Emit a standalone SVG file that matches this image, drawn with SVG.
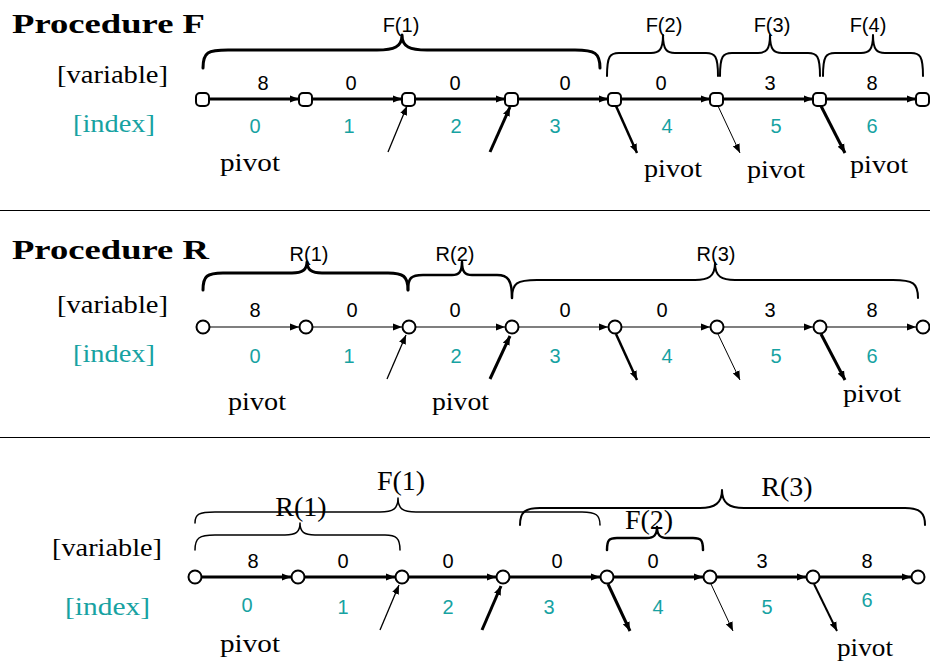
<svg xmlns="http://www.w3.org/2000/svg" width="930" height="664" viewBox="0 0 930 664">
<style>
.title{font-family:"Liberation Serif",serif;font-weight:bold;font-size:28px;fill:#000}
.lab{font-family:"Liberation Serif",serif;font-size:25px;fill:#000}
.idxl{font-family:"Liberation Serif",serif;font-size:25px;fill:#17A2A2}
.val{font-family:"Liberation Sans",Arial,sans-serif;font-size:20px;fill:#000;text-anchor:middle}
.idx{font-family:"Liberation Sans",Arial,sans-serif;font-size:20px;fill:#17A2A2;text-anchor:middle}
.blab{font-family:"Liberation Sans",Arial,sans-serif;font-size:20px;fill:#000;text-anchor:middle}
.slab{font-family:"Liberation Serif",serif;font-size:28px;fill:#000;text-anchor:middle}
.node{fill:#fff;stroke:#000;stroke-width:2}
.brace{fill:none;stroke:#000;stroke-linecap:round;stroke-linejoin:round}
.thick{stroke:#000;stroke-width:3;fill:none}
.thin{stroke:#555;stroke-width:1.3;fill:none}
.sep{stroke:#000;stroke-width:1}
</style>
<defs>
<marker id="ah" viewBox="0 0 10 8" refX="10" refY="4" markerWidth="9" markerHeight="8" markerUnits="userSpaceOnUse" orient="auto">
<path d="M0,0 L10,4 L0,8 z" fill="#000"/>
</marker>
</defs>

<line class="sep" x1="0" y1="210.5" x2="930" y2="210.5"/>
<line class="sep" x1="0" y1="437.5" x2="930" y2="437.5"/>

<!-- Section F -->
<g id="secF-labels">
<text class="title" x="12" y="33" textLength="193" lengthAdjust="spacingAndGlyphs">Procedure F</text>
<text class="lab" x="57" y="83" textLength="111" lengthAdjust="spacingAndGlyphs">[variable]</text>
<text class="idxl" x="73" y="132" textLength="82" lengthAdjust="spacingAndGlyphs">[index]</text>
<text class="val" x="263" y="90">8</text><text class="val" x="351" y="90">0</text><text class="val" x="455" y="90">0</text><text class="val" x="565" y="90">0</text><text class="val" x="661" y="90">0</text><text class="val" x="770" y="90">3</text><text class="val" x="872" y="90">8</text>
<text class="idx" x="255" y="133">0</text><text class="idx" x="349" y="133">1</text><text class="idx" x="456" y="133">2</text><text class="idx" x="555" y="133">3</text><text class="idx" x="667" y="133">4</text><text class="idx" x="776" y="133">5</text><text class="idx" x="872" y="133">6</text>
<text class="lab" x="220" y="171" textLength="60" lengthAdjust="spacingAndGlyphs">pivot</text>
<text class="lab" x="644" y="177" textLength="58" lengthAdjust="spacingAndGlyphs">pivot</text>
<text class="lab" x="747" y="178" textLength="58" lengthAdjust="spacingAndGlyphs">pivot</text>
<text class="lab" x="850" y="173" textLength="58" lengthAdjust="spacingAndGlyphs">pivot</text>
</g>
<g id="secF-braces">
<path class="brace" stroke-width="3" d="M203,68 C203,52 208,50 228,50 L377,50 C394,50 402,47 402,35 C402,47 410,50 427,50 L575,50 C595,50 600,53 600,68"/>
<path class="brace" stroke-width="2" d="M607,76 C607,56 610,53 619,53 L651,53 C659,53 663,50 663,35 C663,50 667,53 675,53 L706,53 C715,53 718,56 718,76"/>
<path class="brace" stroke-width="2" d="M720,76 C720,56 723,53 732,53 L758,53 C766,53 770,50 770,35 C770,50 774,53 782,53 L808,53 C817,53 820,56 820,76"/>
<path class="brace" stroke-width="2" d="M823,76 C823,56 826,53 835,53 L861,53 C869,53 873,50 873,35 C873,50 877,53 885,53 L911,53 C920,53 923,56 923,76"/>
<text class="blab" x="401" y="32">F(1)</text>
<text class="blab" x="664" y="32">F(2)</text>
<text class="blab" x="772" y="32">F(3)</text>
<text class="blab" x="868" y="32">F(4)</text>
</g>
<g id="secF-connectors">
<line class="thick" x1="209" y1="99" x2="299" y2="99" marker-end="url(#ah)"/>
<line class="thick" x1="312" y1="99" x2="402" y2="99" marker-end="url(#ah)"/>
<line class="thick" x1="415" y1="99" x2="505" y2="99" marker-end="url(#ah)"/>
<line class="thick" x1="518" y1="99" x2="608" y2="99" marker-end="url(#ah)"/>
<line class="thick" x1="621" y1="99" x2="710" y2="99" marker-end="url(#ah)"/>
<line class="thick" x1="723" y1="99" x2="813" y2="99" marker-end="url(#ah)"/>
<line class="thick" x1="826" y1="99" x2="916" y2="99" marker-end="url(#ah)"/>
<line stroke="#000" stroke-width="1.3" x1="388" y1="152" x2="407" y2="106" marker-end="url(#ah)"/>
<line stroke="#000" stroke-width="3" x1="490" y1="152" x2="510" y2="107" marker-end="url(#ah)"/>
<line stroke="#000" stroke-width="2.5" x1="616" y1="106" x2="637" y2="153" marker-end="url(#ah)"/>
<line stroke="#000" stroke-width="1" x1="718" y1="106" x2="740" y2="153" marker-end="url(#ah)"/>
<line stroke="#000" stroke-width="3" x1="821" y1="106" x2="845" y2="153" marker-end="url(#ah)"/>
</g>
<g id="secF-nodes">
<rect id="f-n0" class="node" x="196" y="93" width="13" height="13" rx="4"/>
<rect id="f-n1" class="node" x="299" y="93" width="13" height="13" rx="4"/>
<rect id="f-n2" class="node" x="402" y="93" width="13" height="13" rx="4"/>
<rect id="f-n3" class="node" x="505" y="93" width="13" height="13" rx="4"/>
<rect id="f-n4" class="node" x="608" y="93" width="13" height="13" rx="4"/>
<rect id="f-n5" class="node" x="710" y="93" width="13" height="13" rx="4"/>
<rect id="f-n6" class="node" x="813" y="93" width="13" height="13" rx="4"/>
<rect id="f-n7" class="node" x="916" y="93" width="13" height="13" rx="4"/>
</g>

<!-- Section R -->
<g id="secR-labels">
<text class="title" x="12" y="259" textLength="197" lengthAdjust="spacingAndGlyphs">Procedure R</text>
<text class="lab" x="57" y="313" textLength="111" lengthAdjust="spacingAndGlyphs">[variable]</text>
<text class="idxl" x="73" y="362" textLength="82" lengthAdjust="spacingAndGlyphs">[index]</text>
<text class="val" x="255" y="317">8</text><text class="val" x="352" y="317">0</text><text class="val" x="455" y="317">0</text><text class="val" x="565" y="317">0</text><text class="val" x="662" y="317">0</text><text class="val" x="770" y="317">3</text><text class="val" x="872" y="317">8</text>
<text class="idx" x="255" y="363">0</text><text class="idx" x="349" y="363">1</text><text class="idx" x="456" y="363">2</text><text class="idx" x="555" y="363">3</text><text class="idx" x="667" y="363">4</text><text class="idx" x="776" y="363">5</text><text class="idx" x="872" y="363">6</text>
<text class="lab" x="228" y="410" textLength="58" lengthAdjust="spacingAndGlyphs">pivot</text>
<text class="lab" x="432" y="410" textLength="57" lengthAdjust="spacingAndGlyphs">pivot</text>
<text class="lab" x="843" y="402" textLength="58" lengthAdjust="spacingAndGlyphs">pivot</text>
</g>
<g id="secR-braces">
<path class="brace" stroke-width="3" d="M203,290 C203,276 207,273 223,273 L292,273 C302,273 307,270 307,262 C307,270 312,273 322,273 L388,273 C403,273 408,276 408,290"/>
<path class="brace" stroke-width="2.5" d="M408,290 C408,278 411,275 423,275 L452,275 C459,275 462,272 462,262 C462,272 465,275 472,275 L497,275 C508,275 512,280 512,298"/>
<path class="brace" stroke-width="2" d="M512,298 C512,283 517,280 537,280 L695,280 C708,280 715,277 715,263 C715,277 722,280 735,280 L893,280 C913,280 918,283 918,298"/>
<text class="blab" x="309" y="261">R(1)</text>
<text class="blab" x="455" y="261">R(2)</text>
<text class="blab" x="716" y="261">R(3)</text>
</g>
<g id="secR-connectors">
<line class="thin" x1="210" y1="327" x2="299" y2="327" marker-end="url(#ah)"/>
<line class="thin" x1="313" y1="327" x2="402" y2="327" marker-end="url(#ah)"/>
<line class="thin" x1="416" y1="327" x2="505" y2="327" marker-end="url(#ah)"/>
<line class="thin" x1="519" y1="327" x2="608" y2="327" marker-end="url(#ah)"/>
<line class="thin" x1="622" y1="327" x2="710" y2="327" marker-end="url(#ah)"/>
<line class="thin" x1="724" y1="327" x2="813" y2="327" marker-end="url(#ah)"/>
<line class="thin" x1="827" y1="327" x2="916" y2="327" marker-end="url(#ah)"/>
<line stroke="#000" stroke-width="1.3" x1="387" y1="379" x2="406" y2="335" marker-end="url(#ah)"/>
<line stroke="#000" stroke-width="3" x1="490" y1="379" x2="510" y2="336" marker-end="url(#ah)"/>
<line stroke="#000" stroke-width="2.5" x1="616" y1="334" x2="637" y2="380" marker-end="url(#ah)"/>
<line stroke="#000" stroke-width="1" x1="718" y1="334" x2="740" y2="380" marker-end="url(#ah)"/>
<line stroke="#000" stroke-width="3" x1="821" y1="334" x2="845" y2="380" marker-end="url(#ah)"/>
</g>
<g id="secR-nodes">
<circle id="r-n0" class="node" cx="203" cy="327" r="6.5"/>
<circle id="r-n1" class="node" cx="306" cy="327" r="6.5"/>
<circle id="r-n2" class="node" cx="409" cy="327" r="6.5"/>
<circle id="r-n3" class="node" cx="512" cy="327" r="6.5"/>
<circle id="r-n4" class="node" cx="615" cy="327" r="6.5"/>
<circle id="r-n5" class="node" cx="717" cy="327" r="6.5"/>
<circle id="r-n6" class="node" cx="820" cy="327" r="6.5"/>
<circle id="r-n7" class="node" cx="923" cy="327" r="6.5"/>
</g>

<!-- Section 3 -->
<g id="sec3-labels">
<text class="lab" x="52" y="556" textLength="110" lengthAdjust="spacingAndGlyphs">[variable]</text>
<text class="idxl" x="65" y="615" textLength="85" lengthAdjust="spacingAndGlyphs">[index]</text>
<text class="val" x="253" y="568">8</text><text class="val" x="343" y="568">0</text><text class="val" x="448" y="568">0</text><text class="val" x="557" y="568">0</text><text class="val" x="653" y="568">0</text><text class="val" x="762" y="568">3</text><text class="val" x="867" y="568">8</text>
<text class="idx" x="247" y="612">0</text><text class="idx" x="343" y="614">1</text><text class="idx" x="448" y="614">2</text><text class="idx" x="549" y="614">3</text><text class="idx" x="658" y="614">4</text><text class="idx" x="767" y="614">5</text><text class="idx" x="867" y="607">6</text>
<text class="lab" x="220" y="652" textLength="60" lengthAdjust="spacingAndGlyphs">pivot</text>
<text class="lab" x="837" y="656" textLength="56" lengthAdjust="spacingAndGlyphs">pivot</text>
</g>
<g id="sec3-braces">
<path class="brace" stroke-width="1.5" d="M195,523 C195,514 199,512 215,512 L380,512 C393,512 398,509 398,498 C398,509 403,512 416,512 L582,512 C596,512 600,515 600,525"/>
<path class="brace" stroke-width="1.5" d="M195,550 C195,538 199,535 215,535 L285,535 C296,535 300,532 300,523 C300,532 304,535 315,535 L385,535 C396,535 400,538 400,550"/>
<path class="brace" stroke-width="2" d="M520,525 C520,512 525,508 540,508 L700,508 C715,508 722,503 722,490 C722,503 729,508 744,508 L905,508 C920,508 925,513 925,525"/>
<path class="brace" stroke-width="2.5" d="M607,550 C607,540 609,538 617,538 L647,538 C654,538 657,535 657,527 C657,535 660,538 667,538 L693,538 C701,538 703,540 703,550"/>
<text class="slab" x="301" y="516">R(1)</text>
<text class="slab" x="401" y="490">F(1)</text>
<text class="slab" x="787" y="496">R(3)</text>
<text class="slab" x="649" y="529">F(2)</text>
</g>
<g id="sec3-connectors">
<line class="thick" x1="202" y1="577" x2="291" y2="577" marker-end="url(#ah)"/>
<line class="thick" x1="305" y1="577" x2="395" y2="577" marker-end="url(#ah)"/>
<line class="thick" x1="409" y1="577" x2="496" y2="577" marker-end="url(#ah)"/>
<line class="thick" x1="510" y1="577" x2="600" y2="577" marker-end="url(#ah)"/>
<line class="thick" x1="614" y1="577" x2="703" y2="577" marker-end="url(#ah)"/>
<line class="thick" x1="717" y1="577" x2="806" y2="577" marker-end="url(#ah)"/>
<line class="thick" x1="820" y1="577" x2="911" y2="577" marker-end="url(#ah)"/>
<line stroke="#000" stroke-width="1.3" x1="380" y1="630" x2="399" y2="585" marker-end="url(#ah)"/>
<line stroke="#000" stroke-width="3" x1="482" y1="630" x2="501" y2="586" marker-end="url(#ah)"/>
<line stroke="#000" stroke-width="3" x1="608" y1="584" x2="630" y2="631" marker-end="url(#ah)"/>
<line stroke="#000" stroke-width="1" x1="711" y1="584" x2="733" y2="631" marker-end="url(#ah)"/>
<line stroke="#000" stroke-width="2" x1="814" y1="584" x2="837" y2="631" marker-end="url(#ah)"/>
</g>
<g id="sec3-nodes">
<circle id="c-n0" class="node" cx="195" cy="577" r="6.5"/>
<circle id="c-n1" class="node" cx="298" cy="577" r="6.5"/>
<circle id="c-n2" class="node" cx="402" cy="577" r="6.5"/>
<circle id="c-n3" class="node" cx="503" cy="577" r="6.5"/>
<circle id="c-n4" class="node" cx="607" cy="577" r="6.5"/>
<circle id="c-n5" class="node" cx="710" cy="577" r="6.5"/>
<circle id="c-n6" class="node" cx="813" cy="577" r="6.5"/>
<circle id="c-n7" class="node" cx="918" cy="577" r="6.5"/>
</g>
</svg>
